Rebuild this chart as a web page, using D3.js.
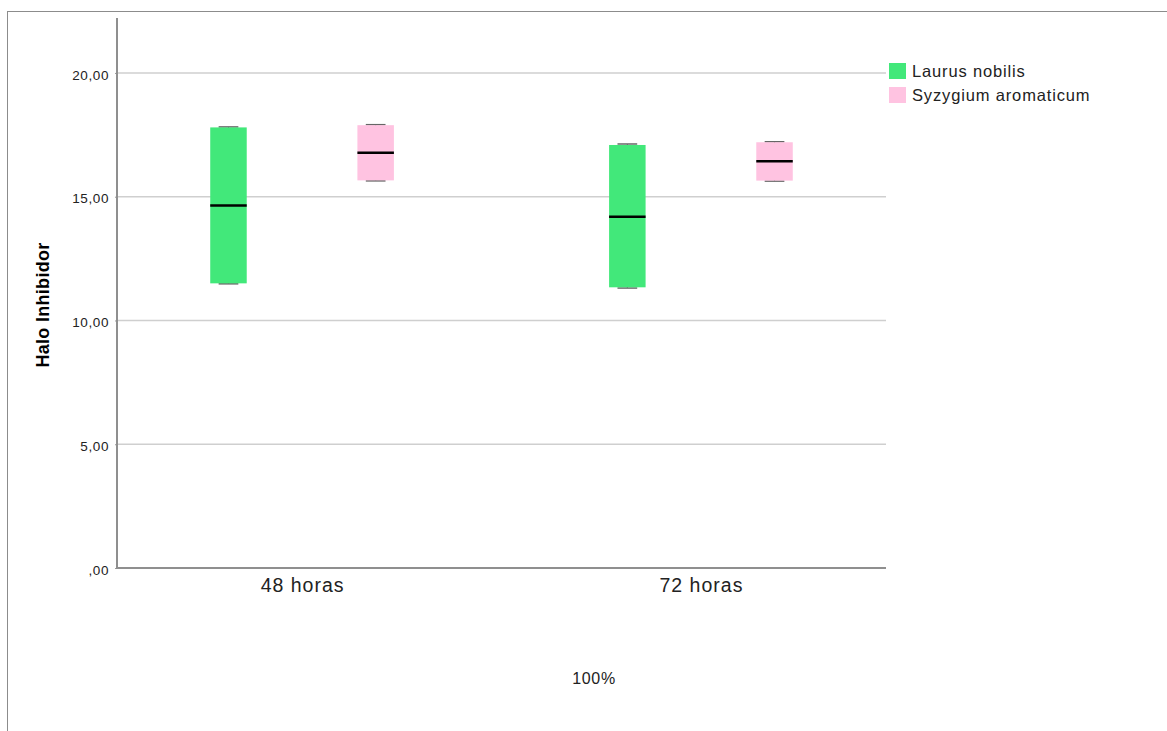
<!DOCTYPE html>
<html>
<head>
<meta charset="utf-8">
<script src="https://cdn.jsdelivr.net/npm/d3@7"></script>
<style>
  html, body { margin: 0; padding: 0; background: #fff; }
  svg { display: block; font-family: "Liberation Sans", Arial, sans-serif; }
</style>
</head>
<body>
<svg id="chart" width="1167" height="731"></svg>
<script>
// ---- Data ----
const groups = ["48 horas", "72 horas"];
const series = ["Laurus nobilis", "Syzygium aromaticum"];
const colors = ["#42e87a", "#ffc3e1"];
// [min, q1, median, q3, max] per series, per group
const laurusStats = [
  [11.48, 11.50, 14.64, 17.80, 17.82],
  [11.31, 11.34, 14.19, 17.09, 17.13]
];
const syzygiumStats = [
  [15.64, 15.66, 16.78, 17.89, 17.91],
  [15.63, 15.65, 16.43, 17.20, 17.22]
];
const yTicks = [0, 5, 10, 15, 20];
const yTickLabels = [",00", "5,00", "10,00", "15,00", "20,00"];
const yTitle = "Halo Inhibidor";
const xTitle = "100%";

const allStats = [laurusStats, syzygiumStats];

// ---- Layout ----
const svg = d3.select("#chart");
const plot = { left: 117, right: 886, top: 18, bottom: 568 };

// outer frame
svg.append("rect")
  .attr("x", 7.5).attr("y", 11.5)
  .attr("width", 1200).attr("height", 800)
  .attr("fill", "none").attr("stroke", "#8c8c8c").attr("stroke-width", 1);

const y = d3.scaleLinear().domain([0, 22.22]).range([plot.bottom, plot.top]);
const x = d3.scalePoint().domain(groups).range([plot.left, plot.right]).padding(0.464);
const step = x.step();
const inner = d3.scaleBand().domain(series).range([-0.369 * step, 0.369 * step]);
const boxW = inner.bandwidth() * 0.248;

// gridlines
svg.append("g").selectAll("line")
  .data(yTicks.filter(d => d > 0))
  .join("line")
  .attr("x1", plot.left).attr("x2", plot.right)
  .attr("y1", d => y(d)).attr("y2", d => y(d))
  .attr("stroke", "#cfcfcf").attr("stroke-width", 1.6);

// y axis
const yAxis = d3.axisLeft(y)
  .tickValues(yTicks)
  .tickFormat((d, i) => yTickLabels[i])
  .tickSize(2).tickPadding(6);
const gy = svg.append("g").attr("transform", `translate(${plot.left},0)`).call(yAxis);
gy.select(".domain").remove();
gy.selectAll(".tick line").attr("stroke", "#9a9a9a");
gy.selectAll(".tick text")
  .attr("font-size", 13.5).attr("fill", "#222")
  .attr("letter-spacing", 0.6)
  .attr("font-family", "Liberation Sans, Arial, sans-serif")
  .attr("dy", "0.45em");

// x axis
const xAxis = d3.axisBottom(x).tickSize(0).tickPadding(10);
const gx = svg.append("g").attr("transform", `translate(0,${plot.bottom})`).call(xAxis);
gx.select(".domain").remove();
gx.selectAll(".tick text")
  .attr("font-size", 19.5).attr("fill", "#222")
  .attr("letter-spacing", 1)
  .attr("font-family", "Liberation Sans, Arial, sans-serif");

// axis lines (L shape)
svg.append("path")
  .attr("d", `M${plot.left},${plot.top}V${plot.bottom}H${plot.right}`)
  .attr("fill", "none").attr("stroke", "#8f8f8f").attr("stroke-width", 2);

// boxes
series.forEach((s, si) => {
  const g = svg.append("g");
  groups.forEach((grp, gi) => {
    const [mn, q1, md, q3, mx] = allStats[si][gi];
    const cx = x(grp) + inner(s) + inner.bandwidth() / 2;
    // whiskers (vertical)
    g.append("line")
      .attr("x1", cx).attr("x2", cx)
      .attr("y1", y(mx)).attr("y2", y(mn))
      .attr("stroke", "#777").attr("stroke-width", 1);
    // caps
    [mn, mx].forEach(v => {
      g.append("line")
        .attr("x1", cx - boxW * 0.27).attr("x2", cx + boxW * 0.27)
        .attr("y1", y(v)).attr("y2", y(v))
        .attr("stroke", "#666").attr("stroke-width", 1.5);
    });
    // box
    g.append("rect")
      .attr("x", cx - boxW / 2).attr("width", boxW)
      .attr("y", y(q3)).attr("height", y(q1) - y(q3))
      .attr("fill", colors[si]);
    // median
    g.append("line")
      .attr("x1", cx - boxW / 2).attr("x2", cx + boxW / 2)
      .attr("y1", y(md)).attr("y2", y(md))
      .attr("stroke", "#000").attr("stroke-width", 2.5);
  });
});

// y title
svg.append("text")
  .attr("transform", `translate(49,${(plot.top + plot.bottom) / 2 + 12}) rotate(-90)`)
  .attr("text-anchor", "middle")
  .attr("font-size", 18).attr("font-weight", "bold").attr("fill", "#000")
  .attr("letter-spacing", 0.3)
  .text(yTitle);

// x title
svg.append("text")
  .attr("x", 594).attr("y", 684)
  .attr("text-anchor", "middle")
  .attr("font-size", 16).attr("fill", "#222")
  .attr("letter-spacing", 0.7)
  .text(xTitle);

// legend
const legend = svg.append("g").attr("transform", "translate(889,63)");
series.forEach((s, i) => {
  const row = legend.append("g").attr("transform", `translate(0,${i * 24})`);
  row.append("rect").attr("width", 17).attr("height", 16).attr("fill", colors[i]);
  row.append("text").attr("x", 23).attr("y", 14)
    .attr("font-size", 16.5).attr("fill", "#222")
    .attr("letter-spacing", 0.85)
    .text(s);
});
</script>
</body>
</html>
